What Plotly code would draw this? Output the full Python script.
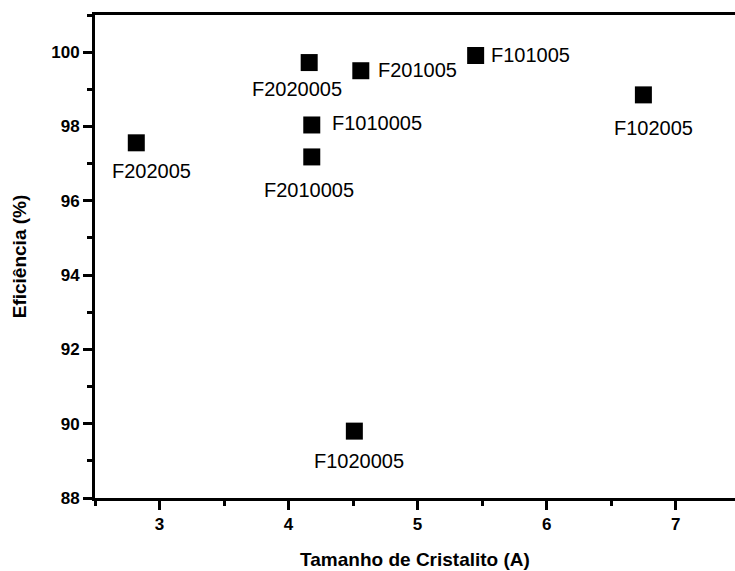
import plotly.graph_objects as go

# Data
samples = ["F202005", "F2020005", "F201005", "F101005", "F1010005",
           "F2010005", "F1020005", "F102005"]
crystallite_size = [2.82, 4.16, 4.56, 5.45, 4.18, 4.18, 4.51, 6.75]
efficiency = [97.56, 99.72, 99.50, 99.91, 98.04, 97.18, 89.80, 98.85]

# Label placement (pixel offsets from marker center) - style only
label_style = {
    "F202005": dict(xanchor="center", xshift=15, yshift=-28),
    "F2020005": dict(xanchor="center", xshift=-12, yshift=-26),
    "F201005": dict(xanchor="left", xshift=15, yshift=1),
    "F101005": dict(xanchor="left", xshift=13, yshift=1),
    "F1010005": dict(xanchor="left", xshift=18, yshift=2),
    "F2010005": dict(xanchor="center", xshift=-3, yshift=-33),
    "F1020005": dict(xanchor="center", xshift=5, yshift=-30),
    "F102005": dict(xanchor="center", xshift=10, yshift=-33),
}

FONT = "Arial, Liberation Sans, sans-serif"

fig = go.Figure()
fig.add_trace(go.Scatter(
    x=crystallite_size, y=efficiency, mode="markers",
    marker=dict(symbol="square", size=17, color="black", line=dict(width=0)),
    showlegend=False, hoverinfo="x+y",
))

for name, xv, yv in zip(samples, crystallite_size, efficiency):
    st = label_style[name]
    fig.add_annotation(x=xv, y=yv, text=name, showarrow=False,
                       xanchor=st["xanchor"], yanchor="middle",
                       xshift=st["xshift"], yshift=st["yshift"],
                       font=dict(family=FONT, size=20, color="black"))

fig.update_layout(
    width=735, height=571,
    margin=dict(l=95, r=0, t=15, b=73),
    paper_bgcolor="white", plot_bgcolor="white",
    font=dict(family=FONT, color="black"),
    xaxis=dict(
        range=[2.5, 7.46], dtick=1, tick0=3,
        showline=True, linecolor="black", linewidth=3, mirror=True,
        ticks="outside", ticklen=9, tickwidth=3, tickcolor="black",
        minor=dict(dtick=0.5, tick0=2.5, ticks="outside", ticklen=5, tickwidth=3, tickcolor="black"),
        showgrid=False, zeroline=False,
        tickfont=dict(family=FONT, size=17, color="black", weight="bold"),
        title=dict(text="<b>Tamanho de Cristalito (A)</b>", standoff=20,
                   font=dict(family=FONT, size=19, color="black")),
    ),
    yaxis=dict(
        range=[88, 101], dtick=2, tick0=88,
        showline=True, linecolor="black", linewidth=3, mirror=False,
        ticks="outside", ticklen=9, tickwidth=3, tickcolor="black",
        minor=dict(dtick=1, tick0=88, ticks="outside", ticklen=5, tickwidth=3, tickcolor="black"),
        showgrid=False, zeroline=False,
        tickfont=dict(family=FONT, size=17, color="black", weight="bold"),
        title=dict(text="<b>Eficiência (%)</b>", standoff=20,
                   font=dict(family=FONT, size=19, color="black")),
    ),
)

fig.write_html("out.html",
               config={"displayModeBar": False},
               post_script="document.body.style.margin='0';document.body.style.overflow='hidden';")
